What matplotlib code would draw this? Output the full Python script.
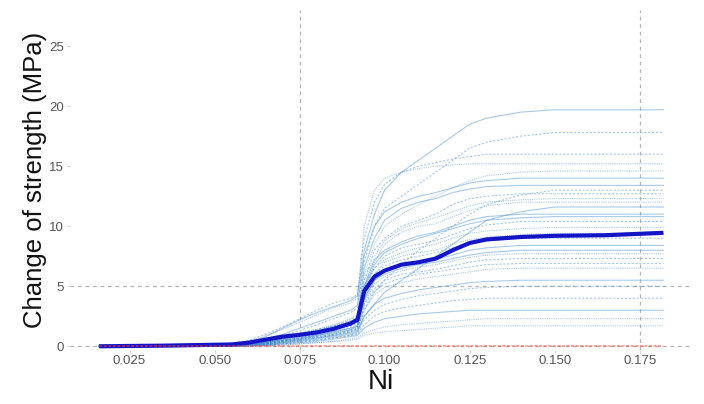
import matplotlib
matplotlib.use("Agg")
import matplotlib.pyplot as plt
import numpy as np

plt.rcParams['font.family'] = ['Liberation Sans', 'DejaVu Sans']

# Ni grid for ICE curves
ni_grid = [0.016, 0.035, 0.055, 0.060, 0.065, 0.070, 0.075, 0.080, 0.085, 0.090,
           0.092, 0.094, 0.097, 0.100, 0.105, 0.110, 0.115, 0.120, 0.125, 0.130,
           0.140, 0.150, 0.165, 0.182]

# average (PDP) curve
mean_curve = [0.0, 0.05, 0.15, 0.3, 0.55, 0.8, 0.95, 1.15, 1.45, 1.9,
              2.2, 4.6, 5.8, 6.3, 6.8, 7.0, 7.3, 8.0, 8.6, 8.9,
              9.1, 9.2, 9.25, 9.45]

# individual conditional expectation curves
ice_01 = [0,0,0.1,0.3,0.8,1.5,2.2,2.8,3.3,3.8,4.2,8,11,13,14.5,15.5,16.5,17.5,18.5,19,19.5,19.7,19.7,19.7]
ice_02 = [0,0,0.1,0.2,0.5,0.9,1.3,1.8,2.3,2.8,3.2,7,10,11.5,12.5,13.5,14.5,15.5,16.5,17.0,17.5,17.8,17.8,17.8]
ice_03 = [0,0,0.1,0.2,0.4,0.7,1.0,1.4,1.8,2.3,2.6,6,8.5,10,11,11.8,12.5,13.2,13.8,14.2,14.5,14.6,14.6,14.6]
ice_04 = [0,0,0.05,0.15,0.4,0.6,0.9,1.2,1.6,2.0,2.4,6.5,9,10.5,11.5,12,12.3,12.8,13.1,13.3,13.4,13.4,13.4,13.4]
ice_05 = [0,0,0.05,0.2,0.5,0.8,1.1,1.4,1.7,2.2,2.5,5.5,8,9,10,10.5,11,11.8,12.3,12.5,12.7,12.7,12.7,12.7]
ice_06 = [0,0,0.1,0.2,0.4,0.7,1.0,1.3,1.7,2.0,2.3,5,7,8.5,9.5,10,10.2,10.8,11.3,11.7,12,12,12,12]
ice_07 = [0,0,0.05,0.1,0.3,0.6,0.9,1.2,1.5,1.9,2.2,5,7.2,8,8.7,9.2,9.5,10,10.5,10.8,11,11,11,11]
ice_08 = [0,0,0.05,0.1,0.3,0.5,0.8,1.1,1.4,1.7,2.0,4.5,6.5,7.5,8.2,8.5,8.8,9.3,9.8,10.1,10.4,10.4,10.4,10.4]
ice_09 = [0,0,0.05,0.1,0.3,0.5,0.7,1.0,1.2,1.5,1.8,4,6,7,7.5,7.8,8,8.5,8.9,9.1,9.3,9.4,9.4,9.4]
ice_10 = [0,0,0.05,0.1,0.2,0.4,0.6,0.9,1.1,1.4,1.7,3.8,5.5,6.2,6.8,7.0,7.2,7.6,8.0,8.2,8.4,8.4,8.4,8.4]
ice_11 = [0,0,0,0.1,0.2,0.4,0.6,0.8,1.0,1.3,1.5,3.5,4.8,5.5,6,6.2,6.4,6.7,7,7.2,7.3,7.3,7.3,7.3]
ice_12 = [0,0,0,0.05,0.2,0.3,0.5,0.7,0.9,1.2,1.4,3,4.3,4.9,5.3,5.6,5.8,6,6.2,6.4,6.5,6.5,6.5,6.5]
ice_13 = [0,0,0,0.05,0.1,0.3,0.4,0.6,0.8,1.0,1.2,2.5,3.5,4,4.4,4.7,4.9,5.1,5.3,5.4,5.5,5.5,5.5,5.5]
ice_14 = [0,0,0,0.05,0.1,0.2,0.3,0.5,0.7,0.9,1.0,1.8,2.5,2.9,3.2,3.4,3.6,3.8,3.9,4,4,4,4,4]
ice_15 = [0,0,0,0,0.05,0.1,0.2,0.3,0.4,0.5,0.6,0.9,1.1,1.2,1.3,1.4,1.5,1.6,1.7,1.7,1.7,1.7,1.7,1.7]
ice_16 = [0,0,0,0.05,0.1,0.2,0.3,0.4,0.6,0.8,0.9,1.5,2,2.3,2.5,2.7,2.8,2.9,3,3,3,3,3,3]
ice_17 = [0,0,0.2,0.5,1.0,1.6,2.3,3.0,3.6,4.0,4.3,9,12,13.5,14.5,15,15.3,15.6,15.8,16,16,16,16,16]
ice_18 = [0,0.05,0.2,0.4,0.9,1.4,2.0,2.6,3.2,3.6,4,10,13,14,14.5,14.8,15,15.1,15.2,15.2,15.2,15.2,15.2,15.2]
ice_19 = [0,0,0,0.05,0.15,0.3,0.5,0.7,0.9,1.1,1.3,2.5,3.5,4.5,5.5,6.5,7.5,8.5,9.5,10.5,11.2,11.6,11.6,11.6]
ice_20 = [0,0,0,0.1,0.2,0.4,0.6,0.8,1.0,1.3,1.5,3,4.5,5.5,6.8,8,9,10,11,11.8,12.6,13,13,13]
ice_21 = [0,0,0.05,0.1,0.3,0.5,0.8,1.1,1.4,1.8,2.1,5,6.5,7.2,7.8,8.2,8.5,9,9.4,9.6,9.8,9.9,9.9,9.9]
ice_22 = [0,0,0,0.1,0.3,0.5,0.7,0.9,1.2,1.5,1.7,4,5.5,6,6.5,6.8,7,7.3,7.6,7.8,8,8,8,8]
ice_23 = [0,0,0,0.05,0.2,0.4,0.5,0.7,0.9,1.2,1.4,3.3,4.6,5.2,5.7,6,6.2,6.4,6.6,6.8,6.9,6.9,6.9,6.9]
ice_24 = [0,0,0.05,0.2,0.4,0.7,1.0,1.3,1.7,2.1,2.4,5.5,7.5,8.8,9.8,10.3,10.7,11.2,11.7,12,12.2,12.3,12.3,12.3]
ice_25 = [0,0,0.05,0.15,0.3,0.6,0.9,1.2,1.5,1.8,2.1,4.8,6.8,7.8,8.5,9,9.4,9.8,10.2,10.5,10.7,10.8,10.8,10.8]
ice_26 = [0,0,0,0.05,0.1,0.2,0.4,0.5,0.7,0.9,1.1,2.2,3,3.5,3.9,4.2,4.4,4.6,4.8,4.9,5,5,5,5]
ice_27 = [0,0,0,0,0.05,0.1,0.2,0.3,0.4,0.6,0.7,1.1,1.4,1.6,1.8,1.9,2.0,2.1,2.2,2.3,2.3,2.3,2.3,2.3]
ice_28 = [0,0,0.1,0.3,0.6,1.0,1.5,2.0,2.5,3.0,3.4,7.5,10,11.2,12,12.5,12.8,13.2,13.6,13.8,14,14,14,14]
ice_29 = [0,0,0.05,0.1,0.25,0.45,0.7,0.95,1.25,1.6,1.9,4.2,6,6.7,7.2,7.5,7.8,8.2,8.6,8.8,9,9,9,9]
ice_30 = [0,0,0,0.1,0.2,0.4,0.6,0.8,1.05,1.35,1.6,3.6,5.2,5.8,6.3,6.6,6.8,7.1,7.4,7.6,7.7,7.7,7.7,7.7]

ice_curves = [ice_01, ice_02, ice_03, ice_04, ice_05, ice_06, ice_07, ice_08, ice_09, ice_10,
              ice_11, ice_12, ice_13, ice_14, ice_15, ice_16, ice_17, ice_18, ice_19, ice_20,
              ice_21, ice_22, ice_23, ice_24, ice_25, ice_26, ice_27, ice_28, ice_29, ice_30]

x_ticks = [0.025, 0.050, 0.075, 0.100, 0.125, 0.150, 0.175]
x_tick_labels = ["0.025", "0.050", "0.075", "0.100", "0.125", "0.150", "0.175"]
y_ticks = [0, 5, 10, 15, 20, 25]
ref_x = [0.075, 0.175]
ref_y = [0, 5]

fig = plt.figure(figsize=(7.04, 4.04), dpi=100)
ax = fig.add_axes([0.099, 0.134, 0.885, 0.841])

for v in ref_x:
    ax.axvline(v, color="#b5b5b5", lw=0.9, ls=(0, (3, 3)), zorder=1)
for v in ref_y:
    ax.axhline(v, color="#b5b5b5", lw=0.9, ls=(0, (3, 3)), zorder=1)

styles = ["-", (0, (2, 1.5)), (0, (1, 1))]
for i, c in enumerate(ice_curves):
    ax.plot(ni_grid, c, color="#3f8ad0", lw=0.8, alpha=0.45,
            ls=styles[i % 3], zorder=2)

ax.plot(ni_grid, mean_curve, color="#1515c8", lw=3.0, zorder=4,
        solid_joinstyle="round", solid_capstyle="butt")
ax.plot([ni_grid[0], ni_grid[-1]], [0, 0], color="#ff3b3b", lw=1.1,
        ls=(0, (2, 1)), alpha=0.6, zorder=5)

ax.set_xlim(0.0074, 0.1906)
ax.set_ylim(-0.3, 28)
ax.set_xticks(x_ticks)
ax.set_xticklabels(x_tick_labels)
ax.set_yticks(y_ticks)
ax.tick_params(length=2, width=0.6, color="#cccccc", labelsize=9.5,
               labelcolor="#555555", pad=2)
for s in ax.spines.values():
    s.set_visible(False)

ax.set_xlabel("Ni", fontsize=20, color="#111111", labelpad=1)
ax.set_ylabel("Change of strength (MPa)", fontsize=18.5, color="#111111", labelpad=1.5)

fig.savefig("out.png", dpi=100)
